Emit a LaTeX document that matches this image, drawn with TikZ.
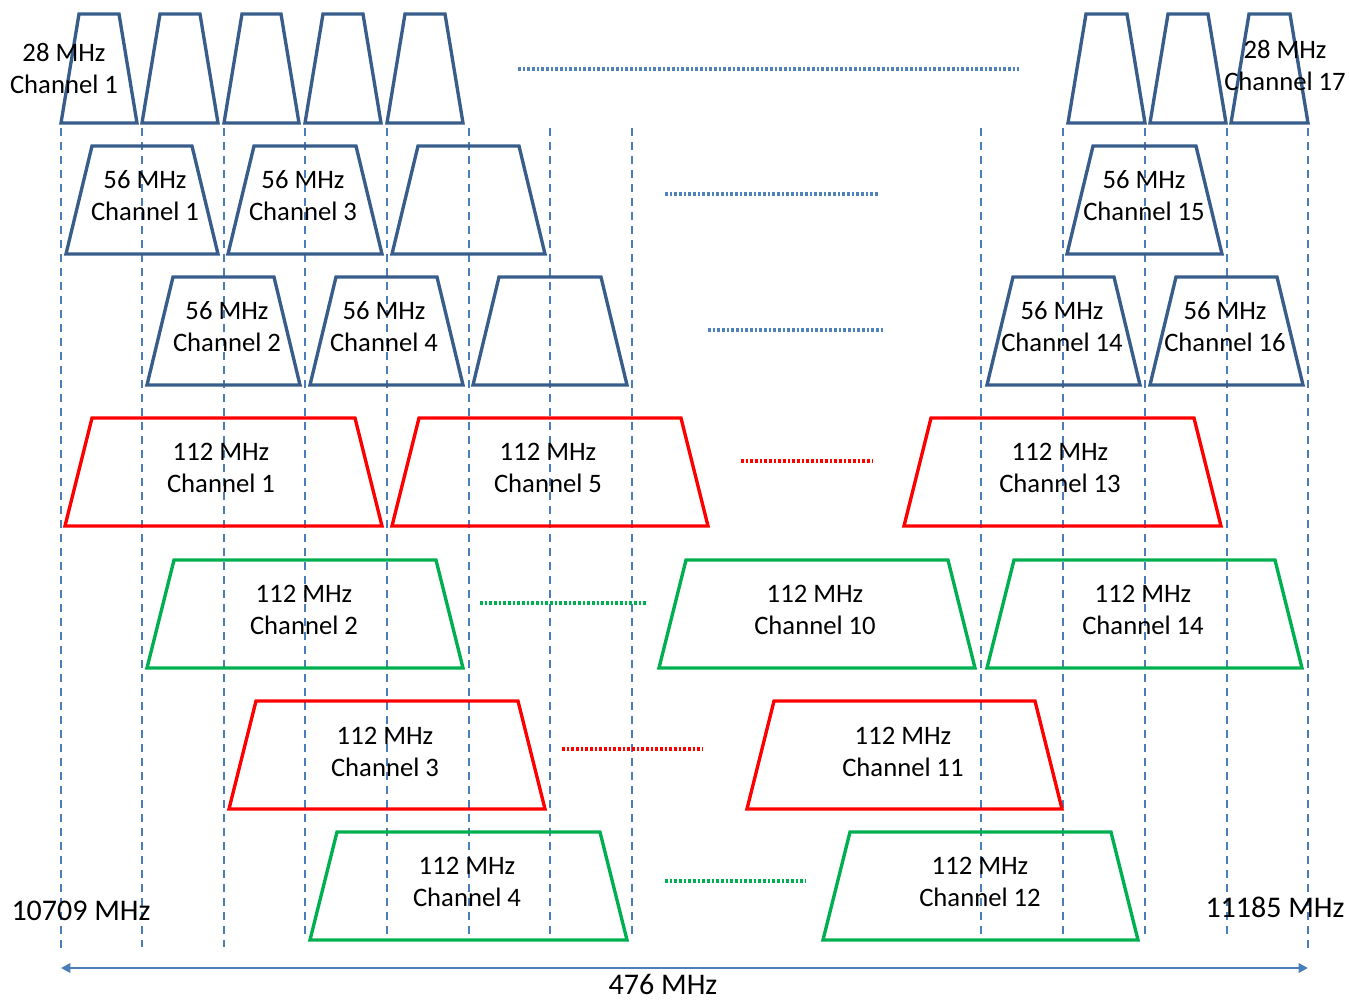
\documentclass[tikz,border=0pt]{standalone}
\usepackage{fontspec}
\setmainfont{Carlito}
\usepackage{xcolor}
\usetikzlibrary{arrows.meta}

\definecolor{chblue}{HTML}{385D8A}
\definecolor{gridblue}{HTML}{4A7EBB}
\definecolor{dotblue}{HTML}{4F81BD}
\definecolor{chred}{HTML}{FF0000}
\definecolor{chgreen}{HTML}{00B050}

\begin{document}
\begin{tikzpicture}[
  x=0.75pt, y=-0.75pt,
  every node/.style={font=\fontsize{20}{24}\selectfont},
  lbl/.style={align=center, inner sep=0pt},
  edge/.style={font=\fontsize{22.5}{26}\selectfont, inner sep=0pt},
  band/.style={line width=2.5pt, line join=miter},
  narrowband/.style={band, draw=chblue},
  redband/.style={band, draw=chred},
  greenband/.style={band, draw=chgreen},
  gridline/.style={draw=gridblue, line width=1.9pt, dash pattern=on 6pt off 4.5pt},
  etc/.style={line width=2.4pt, dash pattern=on 2pt off 1.5pt},
  span/.style={{Triangle[length=7pt,width=7pt]}-{Triangle[length=7pt,width=7pt]},
               draw=gridblue, line width=2pt},
]
\useasboundingbox (0,0) rectangle (1350,1001);

% --- raster of 28 MHz boundaries ---
\foreach \x/\ye in {61/952, 142/947, 224/947, 305/937, 387/937, 469/937, 550/937,
                    632/937, 981/935, 1063/935, 1145/935, 1227/935, 1308/952}
  \draw[gridline] (\x,128) -- (\x,\ye);

% =========================================================
% 28 MHz channels
% =========================================================
\foreach \xl/\xr in {61/137, 142/218, 224/299, 305/381, 387/463,
                     1068/1145, 1150/1226, 1231/1308}
  \draw[narrowband] (\xl,123) -- (\xl+18,14) -- (\xr-18,14) -- (\xr,123) -- cycle;
\node[lbl] (c28a) at (64,68) {28 MHz\\Channel\ 1};
\node[lbl] (c28q) at (1285,65) {28 MHz\\Channel\ 17};
\draw[etc, dotblue] (518,69) -- (1019,69);

% =========================================================
% 56 MHz channels, odd
% =========================================================
\foreach \xl/\xr in {66/218, 228/382, 392/545, 1067/1222}
  \draw[narrowband] (\xl,254) -- (\xl+26,146) -- (\xr-26,146) -- (\xr,254) -- cycle;
\node[lbl] (c56a) at (145,196) {56 MHz\\Channel\ 1};
\node[lbl] (c56c) at (303,196) {56 MHz\\Channel\ 3};
\node[lbl] (c56o) at (1144,196) {56 MHz\\Channel\ 15};
\draw[etc, dotblue] (665,194) -- (878,194);

% =========================================================
% 56 MHz channels, even
% =========================================================
\foreach \xl/\xr in {147/300, 310/463, 473/627, 987/1140, 1150/1303}
  \draw[narrowband] (\xl,385) -- (\xl+26,277) -- (\xr-26,277) -- (\xr,385) -- cycle;
\node[lbl] (c56b) at (227,327) {56 MHz\\Channel\ 2};
\node[lbl] (c56d) at (384,327) {56 MHz\\Channel\ 4};
\node[lbl] (c56n) at (1062,327) {56 MHz\\Channel\ 14};
\node[lbl] (c56p) at (1225,327) {56 MHz\\Channel\ 16};
\draw[etc, dotblue] (708,330) -- (883,330);

% =========================================================
% 112 MHz channels
% =========================================================
\foreach \xl/\xr in {65/382, 392/708, 904/1221}
  \draw[redband] (\xl,526) -- (\xl+27,418) -- (\xr-27,418) -- (\xr,526) -- cycle;
\node[lbl] (c112a) at (221,468) {112 MHz\\Channel\ 1};
\node[lbl] (c112e) at (548,468) {112 MHz\\Channel\ 5};
\node[lbl] (c112m) at (1060,468) {112 MHz\\Channel\ 13};
\draw[etc, chred] (741,461) -- (872,461);

\foreach \xl/\xr in {147/463, 659/975, 987/1302}
  \draw[greenband] (\xl,668) -- (\xl+27,560) -- (\xr-27,560) -- (\xr,668) -- cycle;
\node[lbl] (c112b) at (304,610) {112 MHz\\Channel\ 2};
\node[lbl] (c112j) at (815,610) {112 MHz\\Channel\ 10};
\node[lbl] (c112n) at (1143,610) {112 MHz\\Channel\ 14};
\draw[etc, chgreen] (480,603) -- (648,603);

\foreach \xl/\xr in {229/545, 747/1062}
  \draw[redband] (\xl,809) -- (\xl+27,701) -- (\xr-27,701) -- (\xr,809) -- cycle;
\node[lbl] (c112c) at (385,752) {112 MHz\\Channel\ 3};
\node[lbl] (c112k) at (903,752) {112 MHz\\Channel\ 11};
\draw[etc, chred] (562,749) -- (703,749);

\foreach \xl/\xr in {310/627, 823/1138}
  \draw[greenband] (\xl,940) -- (\xl+27,832) -- (\xr-27,832) -- (\xr,940) -- cycle;
\node[lbl] (c112d) at (467,882) {112 MHz\\Channel\ 4};
\node[lbl] (c112l) at (980,882) {112 MHz\\Channel\ 12};
\draw[etc, chgreen] (665,881) -- (806,881);

% --- band edges and total width ---
\node[edge] (flo) at (81,911) {10709 MHz};
\node[edge] (fhi) at (1275,907) {11185 MHz};
\coordinate (lo) at (61,968);
\coordinate (hi) at (1308,968);
\draw[span] (lo) -- (hi);
\node[edge] (bw) at (663,984) {476 MHz};

\end{tikzpicture}
\end{document}
